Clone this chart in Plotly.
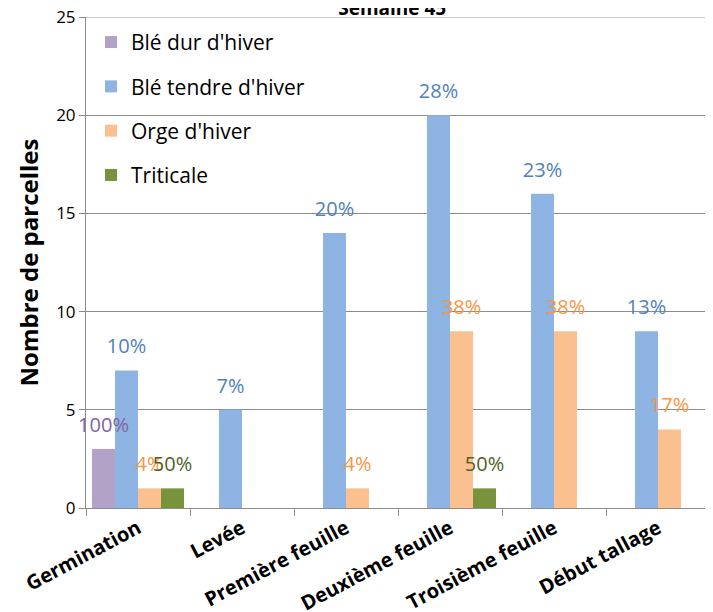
import plotly.graph_objects as go

categories = ["Germination", "Levée", "Première feuille", "Deuxième feuille", "Troisième feuille", "Début tallage"]
series_names = ["Blé dur d'hiver", "Blé tendre d'hiver", "Orge d'hiver", "Triticale"]
ble_dur = [3, 0, 0, 0, 0, 0]
ble_tendre = [7, 5, 14, 20, 16, 9]
orge = [1, 0, 1, 9, 9, 4]
triticale = [1, 0, 0, 1, 0, 0]
lbl_ble_dur = ["100%", "", "", "", "", ""]
lbl_ble_tendre = ["10%", "7%", "20%", "28%", "23%", "13%"]
lbl_orge = ["4%", "", "4%", "38%", "38%", "17%"]
lbl_triticale = ["50%", "", "", "50%", "", ""]
y_ticks = [0, 5, 10, 15, 20, 25]

bar_colors = ["#B3A2C7", "#8EB4E3", "#FAC090", "#77933C"]
text_colors = ["#8064A2", "#4F81BD", "#F79646", "#4F6228"]
values = [ble_dur, ble_tendre, orge, triticale]
labels = [lbl_ble_dur, lbl_ble_tendre, lbl_orge, lbl_triticale]

FONT = "'Open Sans', Lato, sans-serif"
GAP = 0.115
GRID = "#8C8C8C"

fig = go.Figure()
for i, (name, vals, bc) in enumerate(zip(series_names, values, bar_colors)):
    fig.add_trace(go.Bar(
        name=name, x=categories, y=vals, legendgroup=name,
        offsetgroup=str(i), alignmentgroup="a",
        marker=dict(color=bc, line=dict(width=0)),
    ))
for i, (name, vals, lbls, tc) in enumerate(zip(series_names, values, labels, text_colors)):
    fig.add_trace(go.Scatter(
        x=categories, y=vals, text=lbls, mode="markers+text",
        offsetgroup=str(i), alignmentgroup="a",
        textposition="top center", cliponaxis=False, showlegend=False,
        hoverinfo="skip",
        marker=dict(size=18, opacity=0),
        textfont=dict(color=tc, size=20, family=FONT),
    ))

# top gridline (at the last tick) that Plotly omits at the plot edge
fig.add_shape(type="line", xref="paper", x0=0, x1=1, yref="y",
              y0=y_ticks[-1], y1=y_ticks[-1], line=dict(color=GRID, width=1), layer="below")

fig.update_layout(
    width=705, height=604,
    barmode="group", bargap=GAP, bargroupgap=0,
    scattermode="group", scattergap=GAP,
    plot_bgcolor="white", paper_bgcolor="white",
    margin=dict(l=78, r=3, t=9, b=104, autoexpand=False),
    font=dict(family=FONT, color="#000000"),
    title=dict(text="<b>Semaine 45</b>", x=0.545, xanchor="center",
               yref="container", y=1.0, yanchor="middle",
               font=dict(size=19, family=FONT, color="#000000")),
    legend=dict(x=0.008, y=0.99, xanchor="left", yanchor="top",
                bgcolor="rgba(0,0,0,0)", font=dict(size=21, family=FONT),
                tracegroupgap=14, itemsizing="constant", traceorder="grouped"),
    showlegend=True,
)
fig.update_yaxes(range=[0, 25], tickvals=y_ticks, showgrid=True, gridcolor=GRID,
                 gridwidth=1, showline=True, linecolor=GRID, ticks="outside",
                 ticklen=6, tickcolor=GRID, tickfont=dict(size=17, family=FONT),
                 ticklabeloverflow="allow",
                 title=dict(text="<b>Nombre de parcelles</b>", font=dict(size=24, family=FONT), standoff=10),
                 zeroline=False, automargin=False)
fig.update_xaxes(showline=True, linecolor=GRID, ticks="outside", ticklen=7,
                 tickcolor=GRID, tickson="boundaries", tickangle=-28,
                 tickfont=dict(size=20, family=FONT), ticklabeloverflow="allow",
                 tickvals=categories, automargin=False,
                 ticktext=["<b>%s</b>" % c for c in categories])

fig.write_html("out.html")
